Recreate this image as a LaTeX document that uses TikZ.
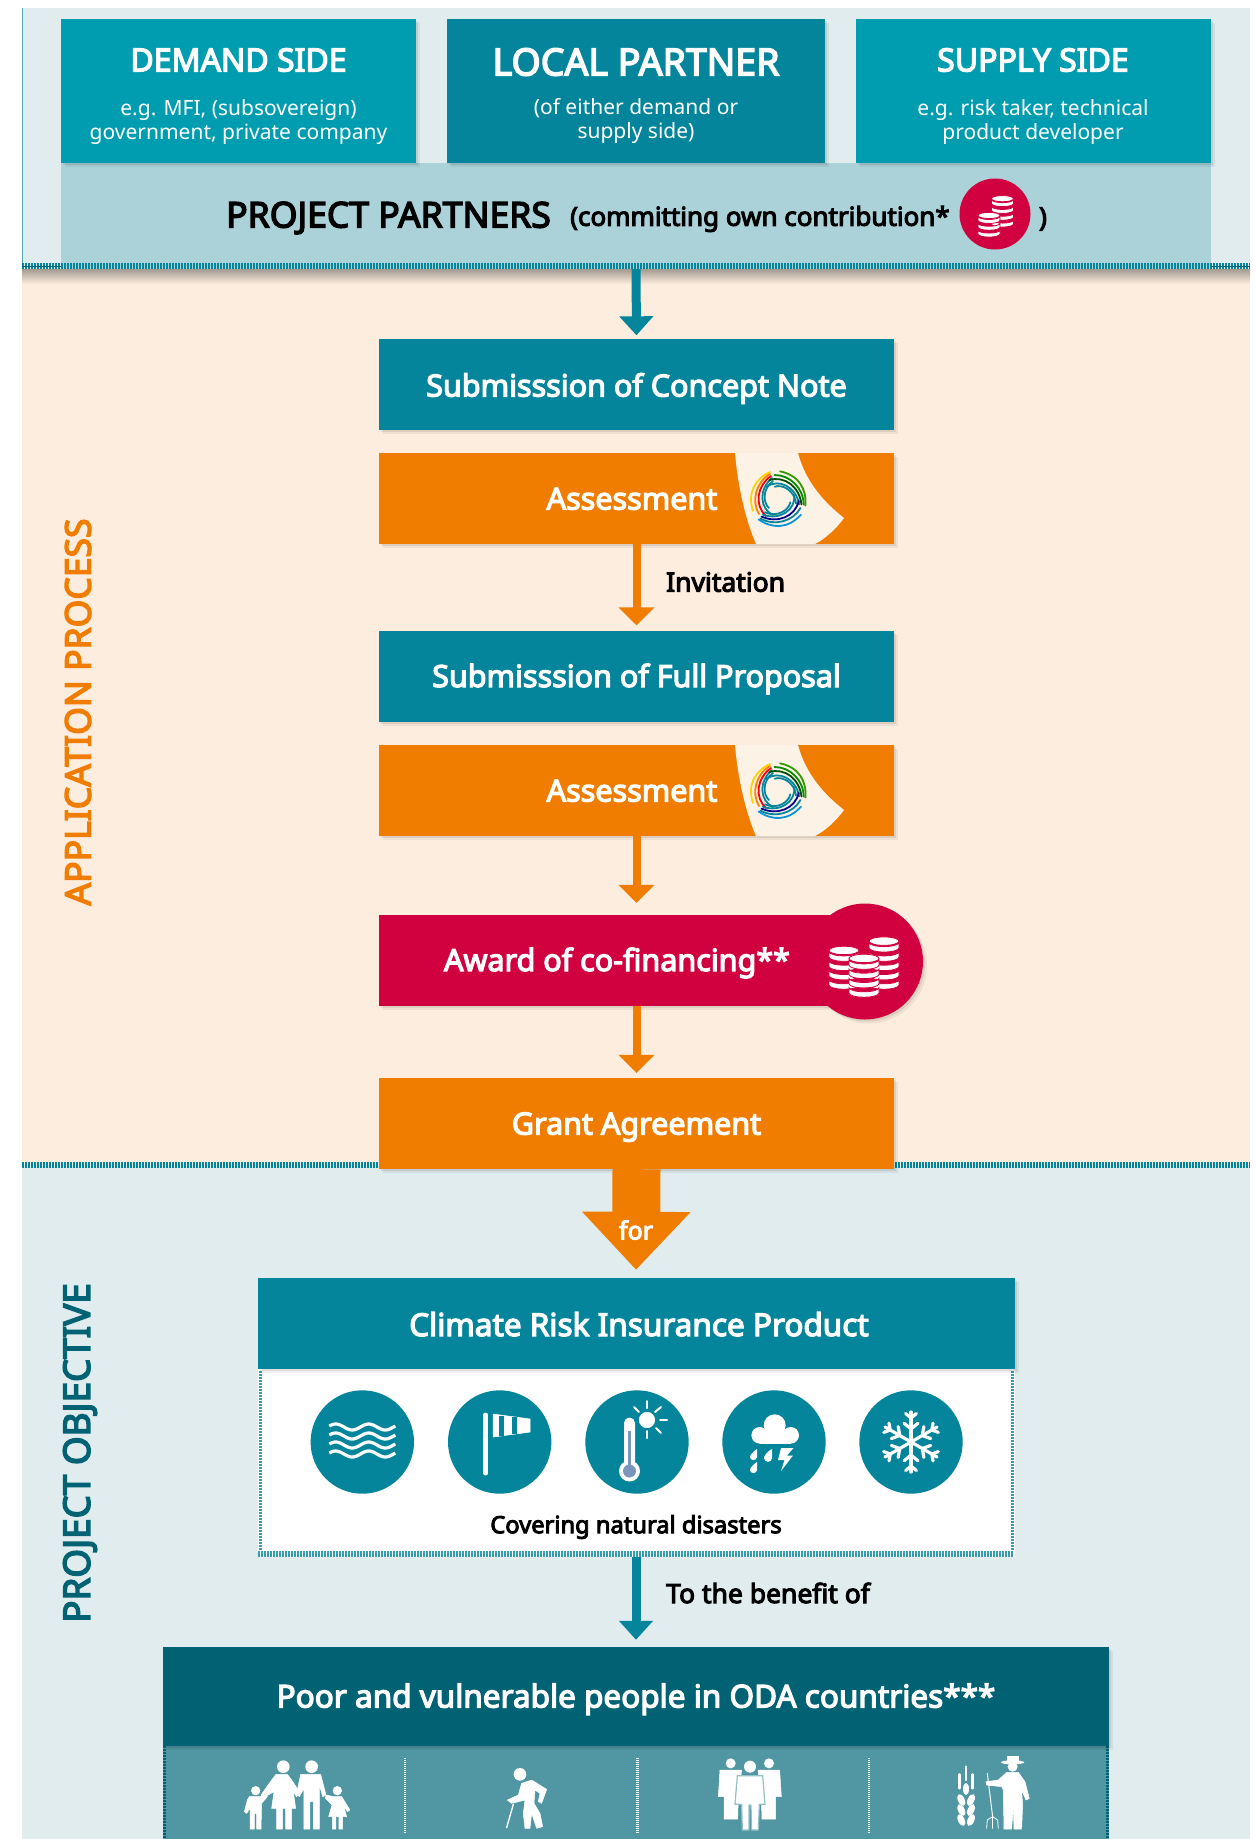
\documentclass[tikz,border=0pt]{standalone}
\usepackage{fontspec}
\setmainfont{Noto Sans}
\newfontfamily\headfont{Noto Sans}[FakeBold=4]
\usetikzlibrary{arrows.meta,shadows}

\definecolor{tealmain}{HTML}{04859B}
\definecolor{tealside}{HTML}{009DB0}
\definecolor{tealdark}{HTML}{006272}
\definecolor{tealpale}{HTML}{ABD2D9}
\definecolor{tealsoft}{HTML}{5096A3}
\definecolor{bluebg}{HTML}{E0ECEE}
\definecolor{peachbg}{HTML}{FDEDDE}
\definecolor{peachpale}{HTML}{FDF2E6}
\definecolor{orangemain}{HTML}{F07D00}
\definecolor{crimson}{HTML}{D1003F}
\definecolor{thermoblue}{HTML}{7B96BC}

\tikzset{
  softshadow/.style={general shadow={shadow xshift=4pt,shadow yshift=-4pt,opacity=.06,fill=black},
    general shadow={shadow xshift=2pt,shadow yshift=-2pt,opacity=.08,fill=black}},
  plainbox/.style={rectangle,inner sep=0pt,text=white,align=center,softshadow},
  stepbox/.style={plainbox,minimum width=515,minimum height=91,text height=22,text depth=0,font=\fontsize{30.5}{34}\selectfont\headfont},
  sidebox/.style={plainbox,minimum height=144,minimum width=355},
  boxtext/.style={inner sep=0pt,text=white,text height=22,text depth=0,font=\fontsize{30.5}{34}\selectfont\headfont},
  sidehead/.style={inner sep=0pt,text=white,font=\fontsize{32}{36}\selectfont\headfont},
  sidetext/.style={inner sep=0pt,text=white,align=center,font=\fontsize{21}{24.5}\selectfont},
  darktext/.style={inner sep=0pt,text=black,font=\fontsize{26.5}{30}\selectfont\headfont},
  sidelabel/.style={inner sep=0pt,rotate=90,font=\fontsize{35.5}{40}\selectfont\headfont},
  hazard/.style={circle,inner sep=0pt,minimum size=103.4,fill=tealmain},
  tealarrow/.style={draw=tealmain,line width=9,-{Triangle[width=33,length=19]}},
  orangearrow/.style={draw=orangemain,line width=8,-{Triangle[width=35,length=18]}},
  stripe/.style={line width=#1,dash pattern=on 1.5pt off 1.5pt},
  icon/.style={fill=white,draw=white,line width=.5,line join=round},
  iconline/.style={draw=white,line cap=round},
}

% one stack of coins: x, bottom y, coins, half width
\newcommand{\coinstack}[4]{
  \pgfmathsetmacro{\coinry}{#4*.28}
  \pgfmathsetmacro{\coinh}{#4*.36}
  \pgfmathsetmacro{\coinstep}{#4*.62}
  \foreach \i in {1,...,#3}{
    \pgfmathsetmacro{\coiny}{#2-(\i-1)*\coinstep}
    \filldraw [fill=white,draw=crimson,line width=.8] (#1-#4,\coiny) arc [start angle=180,end angle=0,x radius=#4,y radius=\coinry] -- ++(0,-\coinh) arc [start angle=0,end angle=180,x radius=#4,y radius=\coinry] -- cycle;
  }
  \pgfmathsetmacro{\cointop}{#2-(#3-1)*\coinstep-\coinh-\coinry*.3}
  \filldraw [fill=white,draw=crimson,line width=.8] (#1,\cointop) ellipse [x radius=#4,y radius=\coinry];
}

% one arm of the swirl: rotation and four colours
\newcommand{\swirlarm}[5]{
  \begin{scope}[rotate=#1]
    \draw [#2] (-25,12) .. controls (-31,-6) and (-23,-20) .. (-8,-27);
    \draw [#3] (-19,15) .. controls (-27,2) and (-22,-17) .. (-8,-25);
    \draw [#4] (-12,17) .. controls (-24,6) and (-21,-13) .. (-7,-23);
    \draw [#5] (-5,16) .. controls (-18,10) and (-20,-9) .. (-6,-21);
    \draw [#5] (-9,9) .. controls (-15,4) and (-16,-10) .. (-5,-18);
  \end{scope}
}

% swirl on the assessment boxes
\newcommand{\swirl}[2]{
  \begin{scope}[shift={(#1,#2)},line width=1.8,line cap=round]
    \swirlarm{0}{yellow!70!orange}{orange}{red!80!purple}{tealmain}
    \swirlarm{120}{green!50!black!80!yellow}{green!55!black}{green!30!black}{tealmain}
    \swirlarm{240}{cyan!80!blue}{tealmain}{blue!55!black}{tealmain}
  \end{scope}
}

% cut-out on the assessment boxes, from the box top
\newcommand{\cutout}[1]{
  \fill [peachpale] (735,#1) .. controls (738,#1+35) and (746,#1+68) .. (756,#1+91) -- (815,#1+91) .. controls (825,#1+86) and (836,#1+76) .. (844,#1+65) .. controls (825,#1+50) and (806,#1+30) .. (798,#1) -- cycle;
}

\begin{document}
\begin{tikzpicture}[x=1pt,y=1pt,yscale=-1]
	\useasboundingbox (0,0) rectangle (1258,1839);

	% Backgrounds
	\fill [peachbg] (22,269) rectangle (1250,1165);
	\fill [bluebg] (22,1165) rectangle (1250,1839);
	\shade [top color=black!35!peachbg,bottom color=peachbg] (22,269) rectangle (1250,284);
	\fill [bluebg] (22,8) rectangle (1250,269);
	\draw [tealmain!70!white,line width=1] (22.5,8) -- (22.5,266);
	\draw [tealmain,stripe=6] (22,1165) -- (1250,1165);

	% Partner boxes
	\node (partners) [rectangle,inner sep=0pt,fill=tealpale,minimum width=1150,minimum height=106] at (636,216) {};
	\draw [tealmain,stripe=6] (22,266) -- (1250,266);
	\draw [tealdark,line width=1] (22,266) -- (61,266);
	\draw [tealdark,line width=1] (1211,266) -- (1250,266);
	\node (demand) [sidebox,fill=tealside] at (238.5,91) {};
	\node (local) [sidebox,fill=tealmain,minimum width=378] at (636,91) {};
	\node (supply) [sidebox,fill=tealside] at (1033,91) {};
	% Text Node
	\node (demandhead) [sidehead] at (238.5,60) {DEMAND SIDE};
	\node (demandtext) [sidetext] at (238.5,122) {e.g. MFI, (subsovereign)\\government, private company};
	\node (localhead) [sidehead,font=\fontsize{37.5}{42}\selectfont\headfont] at (636,62) {LOCAL PARTNER};
	\node (localtext) [sidetext] at (636,121) {(of either demand or\\supply side)};
	\node (supplyhead) [sidehead] at (1033,60) {SUPPLY SIDE};
	\node (supplytext) [sidetext] at (1033,122) {e.g. risk taker, technical\\product developer};
	\node (partnerhead) [darktext,anchor=west,font=\fontsize{35.5}{40}\selectfont\headfont] at (226,218) {PROJECT PARTNERS};
	\node (partnertext) [darktext,anchor=west,font=\fontsize{26}{30}\selectfont\headfont] at (570,219) {(committing own contribution*};
	\node (partnerclose) [darktext] at (1043,219) {)};
	\node (owncoins) [circle,inner sep=0pt,minimum size=71,fill=crimson] at (995,214) {};
	\coinstack{1002.5}{224}{4}{11}
	\coinstack{989}{234}{3}{11}

	% Application process boxes
	\node (concept) [stepbox,fill=tealmain,text height=25] at (636.5,384) {Submisssion of Concept Note};
	\node (assessone) [stepbox,fill=orangemain] at (636.5,498.5) {};
	\cutout{453}
	\swirl{778}{499}
	\node (assessonetext) [boxtext] at (632,498.5) {Assessment};
	\node (proposal) [stepbox,fill=tealmain] at (636.5,676) {Submisssion of Full Proposal};
	\node (assesstwo) [stepbox,fill=orangemain] at (636.5,790.5) {};
	\cutout{745}
	\swirl{778}{791}
	\node (assesstwotext) [boxtext] at (632,790.5) {Assessment};
	\node (award) [stepbox,fill=crimson] at (636.5,960.5) {};
	\node (awardtext) [boxtext] at (617,960) {Award of co-financing**};
	\node (awardcoins) [circle,inner sep=0pt,minimum size=116,fill=crimson,softshadow] at (865,961.5) {};
	\coinstack{884}{985}{5}{15}
	\coinstack{844}{985}{4}{15}
	\coinstack{864}{993}{4}{15}
	\node (grant) [stepbox,fill=orangemain] at (636.5,1123.5) {Grant Agreement};

	% Project objective boxes
	\node (panel) [rectangle,inner sep=0pt,fill=white,minimum width=757,minimum height=188] at (636,1463) {};
	\draw [tealmain!80!white,stripe=6] (258,1554) -- (1014,1554);
	\draw [tealmain!80!white,stripe=3] (260,1371) -- (260,1551);
	\draw [tealmain!80!white,stripe=3] (1012,1371) -- (1012,1551);
	\node (product) [plainbox,fill=tealmain,minimum width=757,minimum height=91,text height=25,text depth=0,font=\fontsize{31.5}{34}\selectfont\headfont] at (636,1323.5) {\hspace*{6pt}Climate Risk Insurance Product};
	\node (flood) [hazard] at (362.3,1442) {};
	\node (wind) [hazard] at (499.7,1442) {};
	\node (heat) [hazard] at (637,1442) {};
	\node (rain) [hazard] at (774,1442) {};
	\node (frost) [hazard] at (911,1442) {};
	\node (covering) [darktext,font=\fontsize{23.7}{28}\selectfont\headfont] at (636,1527) {Covering natural disasters};
	\node (beneficiary) [rectangle,inner sep=0pt,fill=tealsoft,minimum width=946,minimum height=93] at (636,1792.5) {};
	\draw [tealdark,stripe=3] (164.5,1746) -- (164.5,1839);
	\draw [tealdark,stripe=3] (1107.5,1746) -- (1107.5,1839);
	\node (people) [plainbox,fill=tealdark,minimum width=946,minimum height=99,text height=22,text depth=0,font=\fontsize{31.5}{34}\selectfont\headfont] at (636,1696.5) {Poor and vulnerable people in ODA countries***};
	\draw [white,line width=2.5,dash pattern=on 1pt off 1pt] (405,1758) -- (405,1833);
	\draw [white,line width=2.5,dash pattern=on 1pt off 1pt] (637.5,1758) -- (637.5,1833);
	\draw [white,line width=2.5,dash pattern=on 1pt off 1pt] (869,1758) -- (869,1833);

	% Text Node
	\node (application) [sidelabel,text=orangemain] at (78,712) {APPLICATION PROCESS};
	\node (objective) [sidelabel,text=tealdark,font=\fontsize{36.8}{40}\selectfont\headfont] at (80,1453) {PROJECT OBJECTIVE};
	\node (invitation) [darktext,anchor=west] at (666,582) {Invitation};
	\node (benefit) [darktext,anchor=west] at (666,1593) {To the benefit of};

	% Connection
	\draw [tealarrow,shorten >=3] (partners.south) -- (concept.north);
	\draw [orangearrow,shorten >=5] (assessone.south) -- (proposal.north);
	\draw [orangearrow,shorten >=12] (assesstwo.south) -- (award.north);
	\draw [orangearrow,shorten >=5] (award.south) -- (grant.north);
	\draw [draw=orangemain,line width=48,-{Triangle[width=105,length=58]},shorten >=8] (grant.south) -- (product.north);
	\node (forlabel) [inner sep=0pt,text=white,font=\fontsize{25}{30}\selectfont\headfont] at (636,1230) {for};
	\draw [tealarrow,shorten >=7] (panel.south) -- (people.north);

	% Flood icon
	\begin{scope}[shift={(362.3,1442)}]
		\foreach \wy in {-15,-6,3,12}
			\draw [draw=white,line width=3.2,domain=-33:33,samples=50,smooth] plot (\x,{\wy+3*sin(\x*10.9+200)});
	\end{scope}
	% Wind icon
	\begin{scope}[shift={(499.7,1442)}]
		\draw [iconline,line width=5] (-14,-27) -- (-14,31);
		\filldraw [icon] (-6.5,-28) -- (30.5,-23) -- (30.5,-10) -- (-6.5,-5) -- cycle;
		\fill [tealmain] (-.5,-26.5) rectangle (4,-6.5);
		\fill [tealmain] (12,-25) rectangle (17,-8);
	\end{scope}
	% Heat icon
	\begin{scope}[shift={(637,1442)}]
		\fill [white] (-13,-19) arc [start angle=180,end angle=360,radius=5.5] -- (-2,20) -- (-13,20) -- cycle;
		\fill [white] (-7.5,29) circle [radius=10.5];
		\fill [thermoblue] (-7.5,29) circle [radius=6.5];
		\fill [thermoblue] (-9.3,-11) rectangle (-5.7,28);
		\filldraw [fill=white,draw=tealmain,line width=1.5] (10,-22) circle [radius=9];
		\draw [iconline,line width=2] (10,-41) -- (10,-34);
		\draw [iconline,line width=2] (10,-11) -- (10,-4);
		\draw [iconline,line width=2] (23,-22) -- (30,-22);
		\draw [iconline,line width=2] (-3,-35) -- (2,-30);
		\draw [iconline,line width=2] (24,-35) -- (18,-30);
		\draw [iconline,line width=2] (19,-14) -- (24,-9);
	\end{scope}
	% Rain icon
	\begin{scope}[shift={(774,1442)}]
		\fill [white] (-14.3,-6.7) circle [radius=8.3];
		\fill [white] (.7,-16.7) circle [radius=11];
		\fill [white] (16.7,-6.7) circle [radius=8.3];
		\fill [white] (-14.3,-11) rectangle (16.7,1.6);
		\fill [white] (-4,-15) rectangle (8,-6);
		\fill [white] (-17,7) .. controls (-23,11) and (-24,14) .. (-24,15) .. controls (-24,19) and (-17,19) .. (-17,15) -- cycle;
		\fill [white] (-2,7) .. controls (-9,11) and (-10,15) .. (-10,16) .. controls (-10,21) and (-2,21) .. (-2,16) -- cycle;
		\fill [white] (-17,20) .. controls (-23,24) and (-24,27) .. (-24,28) .. controls (-24,32) and (-17,32) .. (-17,28) -- cycle;
		\fill [white] (7,6) -- (19.5,6) -- (13,13.5) -- (19,13.5) -- (7,29) -- (10.5,18) -- (4,18) -- cycle;
	\end{scope}
	% Frost icon
	\begin{scope}[shift={(911,1442)},line width=3.2,line cap=round]
		\foreach \a in {30,90,...,330}{
			\draw [white] (0,0) -- (\a:30);
			\draw [white] (\a:13) -- ++(\a+50:9);
			\draw [white] (\a:13) -- ++(\a-50:9);
			\draw [white] (\a:24) -- ++(\a+50:7);
			\draw [white] (\a:24) -- ++(\a-50:7);
		}
	\end{scope}

	% Family and elder icons
	\begin{scope}[shift={(230,1745)},scale=.3333]
		\fill [white] (160,65) circle [radius=19];
		\fill [white] (245,65) circle [radius=19];
		\fill [white] (77,137) circle [radius=14];
		\fill [white] (322,137) circle [radius=14];
		\filldraw [icon] (138,88) -- (172,88) -- (185,105) -- (208,140) -- (200,155) -- (190,140) -- (197,190) -- (185,190) -- (185,252) -- (167,252) -- (167,190) -- (158,190) -- (158,252) -- (140,252) -- (140,190) -- (125,190) -- (132,140) -- (100,158) -- (93,150) -- (125,105) -- cycle;
		\filldraw [icon] (212,88) -- (272,88) -- (288,150) -- (278,155) -- (268,118) -- (268,252) -- (250,252) -- (250,170) -- (240,170) -- (240,252) -- (222,252) -- (222,130) -- (208,155) -- (200,145) -- cycle;
		\filldraw [icon] (58,155) -- (90,155) -- (108,146) -- (112,155) -- (95,175) -- (93,252) -- (80,252) -- (80,205) -- (73,205) -- (73,252) -- (60,252) -- (60,190) -- (50,205) -- (43,200) -- (52,165) -- cycle;
		\filldraw [icon] (310,155) -- (335,155) -- (360,195) -- (352,200) -- (340,180) -- (350,215) -- (338,215) -- (338,252) -- (327,252) -- (327,215) -- (318,215) -- (318,252) -- (307,252) -- (307,215) -- (296,215) -- (306,180) -- (285,158) -- (290,150) -- cycle;
		\fill [white] (870,88) circle [radius=19];
		\filldraw [icon] (875,115) -- (905,105) -- (950,133) -- (935,175) -- (925,170) -- (930,145) -- (915,135) -- (912,175) -- (930,205) -- (938,245) -- (920,250) -- (905,205) -- (900,250) -- (885,250) -- (880,205) -- (885,165) -- (845,175) -- (832,165) -- (865,150) -- cycle;
		\draw [iconline,line width=1.4] (850,178) -- (830,248);
	\end{scope}

	% Group and farmer icons
	\begin{scope}[shift={(700,1745)},scale=.3333]
		\fill [white] (92,55) circle [radius=15];
		\fill [white] (207,55) circle [radius=15];
		\filldraw [icon] (60,75) -- (125,75) -- (115,155) -- (113,222) -- (72,222) -- (72,155) -- (55,155) -- cycle;
		\filldraw [icon] (239,75) -- (174,75) -- (184,155) -- (186,222) -- (227,222) -- (227,155) -- (244,155) -- cycle;
		\filldraw [fill=white,draw=tealsoft!60!white,line width=1.2,line join=round] (112,92) -- (188,92) -- (195,178) -- (178,178) -- (175,255) -- (155,255) -- (153,180) -- (147,180) -- (147,255) -- (127,255) -- (125,178) -- (105,178) -- cycle;
		\fill [white] (150,65) circle [radius=18];
		\draw [iconline,line width=2.5] (798,65) -- (798,105);
		\draw [iconline,line width=2.5] (778,88) -- (778,130);
		\draw [iconline,line width=2.5] (818,88) -- (818,130);
		\fill [white] (798,132) ellipse [x radius=9,y radius=18];
		\foreach \ly in {165,195,225}{
			\fill [white,rotate around={-25:(784,\ly)}] (784,\ly) ellipse [x radius=10,y radius=19];
			\fill [white,rotate around={25:(813,\ly)}] (813,\ly) ellipse [x radius=10,y radius=19];
		}
		\draw [iconline,line width=1] (862,85) -- (878,215);
		\draw [iconline,line width=.8] (860,250) -- (862,225) -- (878,215) -- (893,225) -- (895,250);
		\draw [iconline,line width=.8] (878,215) -- (878,250);
		\fill [white] (920,32) rectangle (956,52);
		\fill [white] (938,52) ellipse [x radius=35,y radius=6];
		\fill [white] (938,65) circle [radius=15];
		\filldraw [icon] (920,82) -- (955,82) -- (975,110) -- (988,160) -- (978,165) -- (965,135) -- (968,180) -- (965,252) -- (942,252) -- (940,185) -- (935,252) -- (912,252) -- (910,135) -- (905,125) -- (860,120) -- (858,110) -- (895,105) -- cycle;
	\end{scope}
\end{tikzpicture}
\end{document}
